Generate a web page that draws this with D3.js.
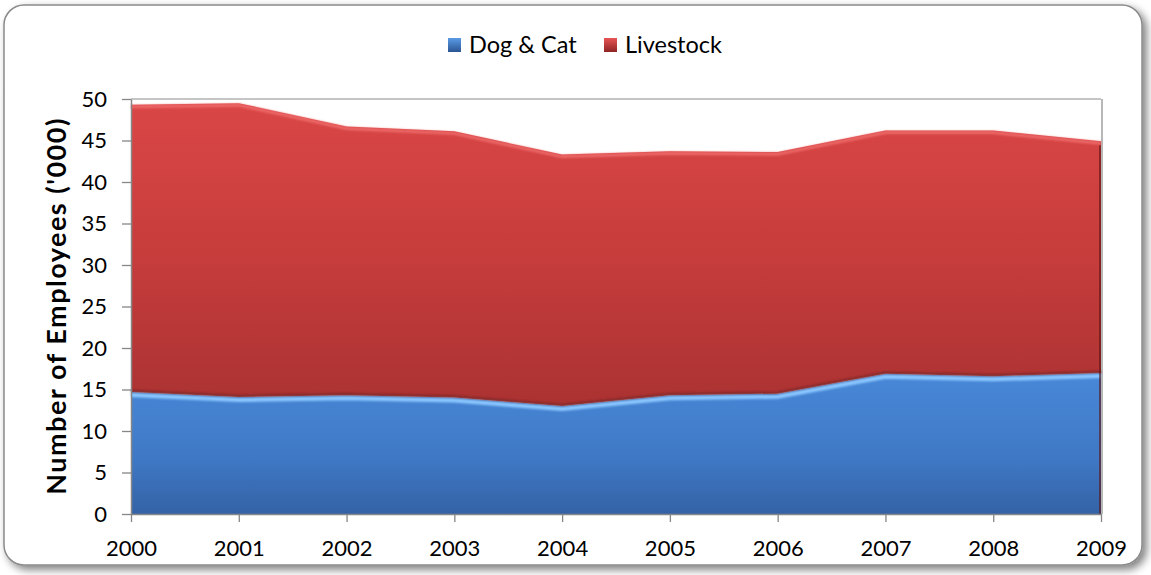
<!DOCTYPE html>
<html>
<head>
<meta charset="utf-8">
<script src="https://cdn.jsdelivr.net/npm/d3@7"></script>
<style>
  html, body { margin: 0; padding: 0; background: #ffffff; }
  svg { display: block; }
</style>
</head>
<body>
<svg id="chart" width="1151" height="575"></svg>
<script>
const years = ["2000","2001","2002","2003","2004","2005","2006","2007","2008","2009"];
const dogCat = [14.7, 14.1, 14.3, 14.05, 13.0, 14.3, 14.5, 16.9, 16.6, 17.0];
const livestock = [34.6, 35.4, 32.4, 32.05, 30.3, 29.4, 29.1, 29.3, 29.6, 27.9];
const seriesNames = ["Dog & Cat", "Livestock"];
const yTicks = [0, 5, 10, 15, 20, 25, 30, 35, 40, 45, 50];

const FONT = "Lato, 'Open Sans', sans-serif";
const svg = d3.select("#chart");
const m = { left: 131, right: 1101, top: 99, bottom: 514 };

const defs = svg.append("defs");
function vgrad(id, stops) {
  const g = defs.append("linearGradient").attr("id", id)
    .attr("x1", 0).attr("y1", 0).attr("x2", 0).attr("y2", 1);
  stops.forEach(([o, c]) => g.append("stop").attr("offset", o).attr("stop-color", c));
}
vgrad("redG", [[0, "#da4646"], [0.5, "#c63d3c"], [1, "#ab3232"]]);
vgrad("blueG", [[0, "#4888d8"], [0.6, "#3f79c5"], [1, "#3462a6"]]);
vgrad("blueLeg", [[0, "#5a9be6"], [1, "#2b5593"]]);
vgrad("redLeg", [[0, "#e85555"], [1, "#8e2424"]]);
const sh = defs.append("filter").attr("id", "shadow").attr("x", "-5%").attr("y", "-5%").attr("width", "115%").attr("height", "115%");
sh.append("feGaussianBlur").attr("in", "SourceAlpha").attr("stdDeviation", 4);
sh.append("feOffset").attr("dx", 4).attr("dy", 4).attr("result", "ob");
sh.append("feComponentTransfer").append("feFuncA").attr("type", "linear").attr("slope", 0.5);
const mg = sh.append("feMerge");
mg.append("feMergeNode");
mg.append("feMergeNode").attr("in", "SourceGraphic");
const blur = defs.append("filter").attr("id", "blur");
blur.append("feGaussianBlur").attr("stdDeviation", 1.2);

// chart border
svg.append("rect").attr("x", 4).attr("y", 5).attr("width", 1138).attr("height", 560)
  .attr("rx", 20).attr("ry", 20)
  .attr("fill", "#ffffff").attr("stroke", "#8a8a8a").attr("stroke-width", 1.5)
  .attr("filter", "url(#shadow)");

const x = d3.scalePoint().domain(years).range([m.left, m.right]);
const y = d3.scaleLinear().domain([0, 50]).range([m.bottom, m.top]);

const rows = years.map((yr, i) => ({ year: yr, "Dog & Cat": dogCat[i], "Livestock": livestock[i] }));
const stack = d3.stack().keys(seriesNames)(rows);

// plot frame
svg.append("line").attr("x1", m.left).attr("x2", m.right).attr("y1", m.top).attr("y2", m.top)
  .attr("stroke", "#8c8c8c").attr("stroke-width", 1.2);
svg.append("line").attr("x1", m.right + 1).attr("x2", m.right + 1).attr("y1", m.top).attr("y2", m.bottom)
  .attr("stroke", "#b8b8b8").attr("stroke-width", 2);

const area = d3.area().x(d => x(d.data.year)).y0(d => y(d[0])).y1(d => y(d[1]));
const fills = ["url(#blueG)", "url(#redG)"];
svg.append("g").selectAll("path").data(stack).join("path")
  .attr("d", area).attr("fill", (d, i) => fills[i]);

// bevel highlights
const edge = (s, off) => d3.line().x(d => x(d.data.year)).y(d => y(d[1]) + off)(s);
svg.append("path").attr("d", edge(stack[1], 2))
  .attr("fill", "none").attr("stroke", "#ee6a6a").attr("stroke-width", 3).attr("filter", "url(#blur)");
svg.append("path").attr("d", edge(stack[0], -1))
  .attr("fill", "none").attr("stroke", "#7a2626").attr("stroke-width", 2).attr("filter", "url(#blur)");
svg.append("path").attr("d", edge(stack[0], 3))
  .attr("fill", "none").attr("stroke", "#8cc8ff").attr("stroke-width", 4).attr("filter", "url(#blur)");
// right edge shade
svg.append("line").attr("x1", m.right - 1).attr("x2", m.right - 1)
  .attr("y1", y(dogCat[9] + livestock[9]) + 4).attr("y2", m.bottom)
  .attr("stroke", "#5a1010").attr("stroke-opacity", 0.6).attr("stroke-width", 2);

// axes
const yAxis = svg.append("g").attr("transform", `translate(${m.left},0)`)
  .call(d3.axisLeft(y).tickValues(yTicks).tickSize(9).tickPadding(15).tickSizeOuter(0));
const xAxis = svg.append("g").attr("transform", `translate(0,${m.bottom})`)
  .call(d3.axisBottom(x).tickSize(8).tickPadding(18).tickSizeOuter(0));
[yAxis, xAxis].forEach(g => {
  g.select(".domain").attr("stroke", "#868686").attr("stroke-width", 1.5);
  g.selectAll(".tick line").attr("stroke", "#868686").attr("stroke-width", 1.3);
  g.selectAll(".tick text").attr("fill", "#000").style("font-family", FONT).style("font-size", "22px");
});

// y label
svg.append("text").attr("transform", `translate(66,306) rotate(-90)`)
  .attr("text-anchor", "middle").style("font-family", FONT).style("font-size", "27px")
  .style("font-weight", "bold").style("letter-spacing", "1.5px").attr("fill", "#000")
  .text("Number of Employees ('000)");

// legend
const legend = [
  { name: seriesNames[0], fill: "url(#blueLeg)", x: 448 },
  { name: seriesNames[1], fill: "url(#redLeg)", x: 604 }
];
const lg = svg.append("g").selectAll("g").data(legend).join("g")
  .attr("transform", d => `translate(${d.x},38)`);
lg.append("rect").attr("width", 13).attr("height", 14).attr("fill", d => d.fill);
lg.append("text").attr("x", 21).attr("y", 15).style("font-family", FONT).style("font-size", "23.5px")
  .attr("fill", "#000").text(d => d.name);
</script>
</body>
</html>
